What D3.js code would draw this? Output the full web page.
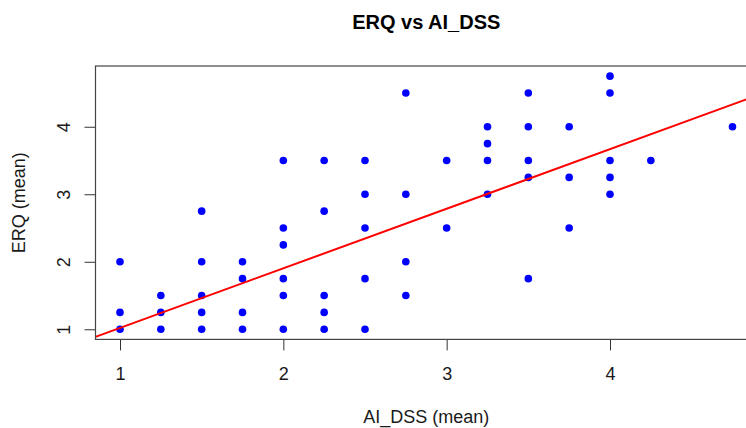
<!DOCTYPE html>
<html>
<head>
<meta charset="utf-8">
<script src="https://cdn.jsdelivr.net/npm/d3@7"></script>
<style>
  body { margin: 0; background: #fff; }
  text { font-family: "Liberation Sans", Arial, sans-serif; fill: #1a1a1a; }
</style>
</head>
<body>
<div id="chart"></div>
<script>
// AI_DSS (mean) per respondent, and the matching ERQ (mean)
const aiDss = [
  1, 1, 1,
  1.25, 1.25, 1.25,
  1.5, 1.5, 1.5, 1.5, 1.5,
  1.75, 1.75, 1.75, 1.75,
  2, 2, 2, 2, 2, 2,
  2.25, 2.25, 2.25, 2.25, 2.25,
  2.5, 2.5, 2.5, 2.5, 2.5,
  2.75, 2.75, 2.75, 2.75,
  3, 3,
  3.25, 3.25, 3.25, 3.25,
  3.5, 3.5, 3.5, 3.5, 3.5,
  3.75, 3.75, 3.75,
  4, 4, 4, 4, 4,
  4.25,
  4.75
];
const erq = [
  2, 1.25, 1,
  1.5, 1.25, 1,
  2.75, 2, 1.5, 1.25, 1,
  2, 1.75, 1.25, 1,
  3.5, 2.5, 2.25, 1.75, 1.5, 1,
  3.5, 2.75, 1.5, 1.25, 1,
  3.5, 3, 2.5, 1.75, 1,
  4.5, 3, 2, 1.5,
  3.5, 2.5,
  4, 3.75, 3.5, 3,
  4.5, 4, 3.5, 3.25, 1.75,
  4, 3.25, 2.5,
  4.75, 4.5, 3.5, 3.25, 3,
  3.5,
  4
];
// abline(lm(ERQ ~ AI_DSS))
const fitIntercept = 0.137;
const fitSlope = 0.883;

const xTicks = [1, 2, 3, 4];
const yTicks = [1, 2, 3, 4];

const points = aiDss.map((d, i) => ({ x: d, y: erq[i] }));

const W = 746, H = 428;
const plotLeft = 95.5, plotRight = 757, plotTop = 66, plotBottom = 339.4;

const svg = d3.select("#chart").append("svg")
    .attr("width", W)
    .attr("height", H);

// R pads the data range by 4% on each side
const x = d3.scaleLinear().domain([0.85, 4.9]).range([plotLeft, plotRight]);
const y = d3.scaleLinear().domain([0.85, 4.9]).range([plotBottom, plotTop]);

svg.append("clipPath").attr("id", "plotClip")
  .append("rect")
    .attr("x", plotLeft).attr("y", plotTop)
    .attr("width", plotRight - plotLeft).attr("height", plotBottom - plotTop);

// x axis
const gx = svg.append("g")
    .attr("transform", `translate(0,${plotBottom})`)
    .call(d3.axisBottom(x).tickValues(xTicks).tickSize(11).tickFormat(d3.format("d")));
gx.select(".domain").remove();
gx.selectAll(".tick line").attr("stroke", "#333");
gx.selectAll(".tick text")
    .attr("y", 41).attr("dy", null)
    .style("font-size", "18px");

// y axis, labels turned like R's las = 0
const gy = svg.append("g")
    .attr("transform", `translate(${plotLeft},0)`)
    .call(d3.axisLeft(y).tickValues(yTicks).tickSize(11).tickFormat(d3.format("d")));
gy.select(".domain").remove();
gy.selectAll(".tick line").attr("stroke", "#333");
gy.selectAll(".tick text")
    .attr("x", null).attr("dy", null)
    .attr("transform", "translate(-26,0) rotate(-90)")
    .attr("text-anchor", "middle")
    .style("font-size", "18px");

// points
svg.append("g")
  .selectAll("circle")
  .data(points)
  .enter().append("circle")
    .attr("cx", d => x(d.x))
    .attr("cy", d => y(d.y))
    .attr("r", 3.8)
    .attr("fill", "#0000ff");

// regression line across the plot region
const xs = x.domain();
svg.append("line")
    .attr("clip-path", "url(#plotClip)")
    .attr("x1", x(xs[0])).attr("y1", y(fitIntercept + fitSlope * xs[0]))
    .attr("x2", x(xs[1])).attr("y2", y(fitIntercept + fitSlope * xs[1]))
    .attr("stroke", "#ff0000")
    .attr("stroke-width", 2);

// box
svg.append("rect")
    .attr("x", plotLeft).attr("y", plotTop)
    .attr("width", plotRight - plotLeft).attr("height", plotBottom - plotTop)
    .attr("fill", "none")
    .attr("stroke", "#444")
    .attr("stroke-width", 1.2);

const midX = (plotLeft + plotRight) / 2;

svg.append("text")
    .attr("x", midX).attr("y", 28.5)
    .attr("text-anchor", "middle")
    .style("font-size", "20px")
    .style("font-weight", "bold")
    .style("fill", "#000")
    .text("ERQ vs AI_DSS");

svg.append("text")
    .attr("x", midX).attr("y", 423)
    .attr("text-anchor", "middle")
    .style("font-size", "18px")
    .text("AI_DSS (mean)");

svg.append("text")
    .attr("transform", `translate(25,${(plotTop + plotBottom) / 2}) rotate(-90)`)
    .attr("text-anchor", "middle")
    .style("font-size", "18px")
    .text("ERQ (mean)");
</script>
</body>
</html>
